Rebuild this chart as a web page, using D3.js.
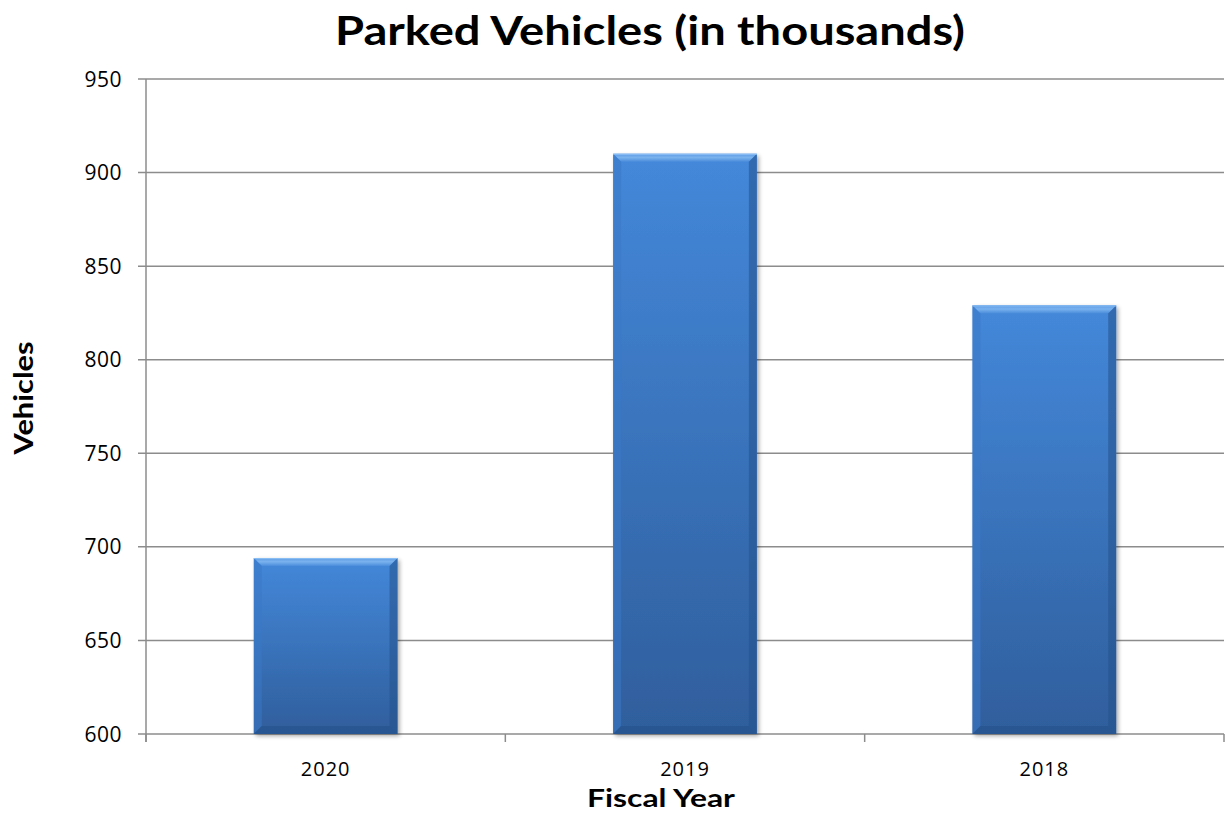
<!DOCTYPE html>
<html><head><meta charset="utf-8">
<script src="https://cdn.jsdelivr.net/npm/d3@7"></script>
<style>body{margin:0;background:#fff}svg{display:block}</style>
</head><body><svg id="c" width="1228" height="813"></svg>
<script>
const categories = ["2020", "2019", "2018"];
const values = [694, 910, 829];
const yTicks = [600, 650, 700, 750, 800, 850, 900, 950];
const title = "Parked Vehicles (in thousands)";
const xTitle = "Fiscal Year";
const yTitle = "Vehicles";

const svg = d3.select("#c");
const m = {l:146, r:1224, t:79, b:734};
const x = d3.scaleBand().domain(categories).range([m.l, m.r]).paddingInner(0.6).paddingOuter(0.3);
const y = d3.scaleLinear().domain([600, 950]).range([m.b, m.t]);

const defs = svg.append("defs");
const g1 = defs.append("linearGradient").attr("id","body").attr("x1",0).attr("y1",0).attr("x2",0).attr("y2",1);
g1.append("stop").attr("offset","0%").attr("stop-color","#4488da");
g1.append("stop").attr("offset","100%").attr("stop-color","#2f5e9c");
const gl = defs.append("linearGradient").attr("id","topb").attr("x1",0).attr("y1",0).attr("x2",0).attr("y2",1);
gl.append("stop").attr("offset","0%").attr("stop-color","#5d9be4");
gl.append("stop").attr("offset","45%").attr("stop-color","#7ab2ee");
gl.append("stop").attr("offset","100%").attr("stop-color","#4a8cdb");
const f = defs.append("filter").attr("id","sh").attr("x","-10%").attr("y","-10%").attr("width","130%").attr("height","130%");
f.append("feGaussianBlur").attr("in","SourceAlpha").attr("stdDeviation",2);
f.append("feOffset").attr("dx",2).attr("dy",2).attr("result","b");
f.append("feComponentTransfer").append("feFuncA").attr("type","linear").attr("slope",0.35);
const mg = f.append("feMerge"); mg.append("feMergeNode"); mg.append("feMergeNode").attr("in","SourceGraphic");

// gridlines
svg.append("g").selectAll("line").data(yTicks).join("line")
  .attr("x1", m.l - 8).attr("x2", m.r).attr("y1", d=>y(d)).attr("y2", d=>y(d))
  .attr("stroke","#8c8c8c").attr("stroke-width",1.5);
// y axis line
svg.append("line").attr("x1",m.l).attr("x2",m.l).attr("y1",m.t).attr("y2",m.b+8).attr("stroke","#8c8c8c").attr("stroke-width",1.5);
// x category boundary ticks
const bounds = [m.l].concat(categories.map(c => x(c) + x.bandwidth() + x.step()*x.paddingInner()/2));
bounds[bounds.length-1] = m.r;
svg.append("g").selectAll("line").data(bounds).join("line")
  .attr("x1",d=>d).attr("x2",d=>d).attr("y1",m.b).attr("y2",m.b+8).attr("stroke","#8c8c8c").attr("stroke-width",1.5);

// bars
const bv = 8;
const bars = svg.append("g").selectAll("g").data(categories).join("g");
bars.each(function(c,i){
  const g = d3.select(this);
  const x0 = x(c), x1 = x(c)+x.bandwidth(), y0 = y(values[i]), y1 = y(600);
  g.append("rect").attr("x",x0).attr("y",y0).attr("width",x1-x0).attr("height",y1-y0).attr("fill","url(#body)").attr("filter","url(#sh)");
  g.append("polygon").attr("points",[[x0,y0],[x1,y0],[x1-bv,y0+bv],[x0+bv,y0+bv]].join(" ")).attr("fill","url(#topb)");
  g.append("polygon").attr("points",[[x0,y0],[x0+bv,y0+bv],[x0+bv,y1-bv],[x0,y1]].join(" ")).attr("fill","#3a78c6").attr("opacity",0.55);
  g.append("polygon").attr("points",[[x1,y0],[x1,y1],[x1-bv,y1-bv],[x1-bv,y0+bv]].join(" ")).attr("fill","#24528c").attr("opacity",0.55);
  g.append("polygon").attr("points",[[x0,y1],[x1,y1],[x1-bv,y1-bv],[x0+bv,y1-bv]].join(" ")).attr("fill","#24508a").attr("opacity",0.6);
  g.append("line").attr("x1",x0).attr("x2",x1).attr("y1",y0+0.5).attr("y2",y0+0.5).attr("stroke","#8cc0f5").attr("stroke-width",1);
});

// y tick labels
svg.append("g").selectAll("text").data(yTicks).join("text")
  .attr("x", 122).attr("y", d=>y(d)).attr("dy","0.36em").attr("text-anchor","end")
  .attr("font-family","Open Sans").attr("font-size",21).attr("letter-spacing",0.5).attr("fill","#000").text(d=>d);
// x tick labels
svg.append("g").selectAll("text").data(categories).join("text")
  .attr("x", c=>x(c)+x.bandwidth()/2).attr("y", 776).attr("text-anchor","middle")
  .attr("font-family","Open Sans").attr("font-size",20).attr("letter-spacing",1).attr("fill","#000").text(c=>c);

svg.append("text").attr("x",650).attr("y",45).attr("text-anchor","middle")
  .attr("font-family","Lato").attr("font-weight","bold").attr("font-size",41)
  .attr("textLength",630).attr("lengthAdjust","spacingAndGlyphs").text(title);
svg.append("text").attr("x",661).attr("y",807).attr("text-anchor","middle")
  .attr("font-family","Lato").attr("font-weight","bold").attr("font-size",25)
  .attr("textLength",148).attr("lengthAdjust","spacingAndGlyphs").text(xTitle);
svg.append("text").attr("transform","translate(33,398) rotate(-90)").attr("text-anchor","middle")
  .attr("font-family","Lato").attr("font-weight","bold").attr("font-size",27)
  .attr("textLength",113).attr("lengthAdjust","spacingAndGlyphs").text(yTitle);
</script></body></html>
